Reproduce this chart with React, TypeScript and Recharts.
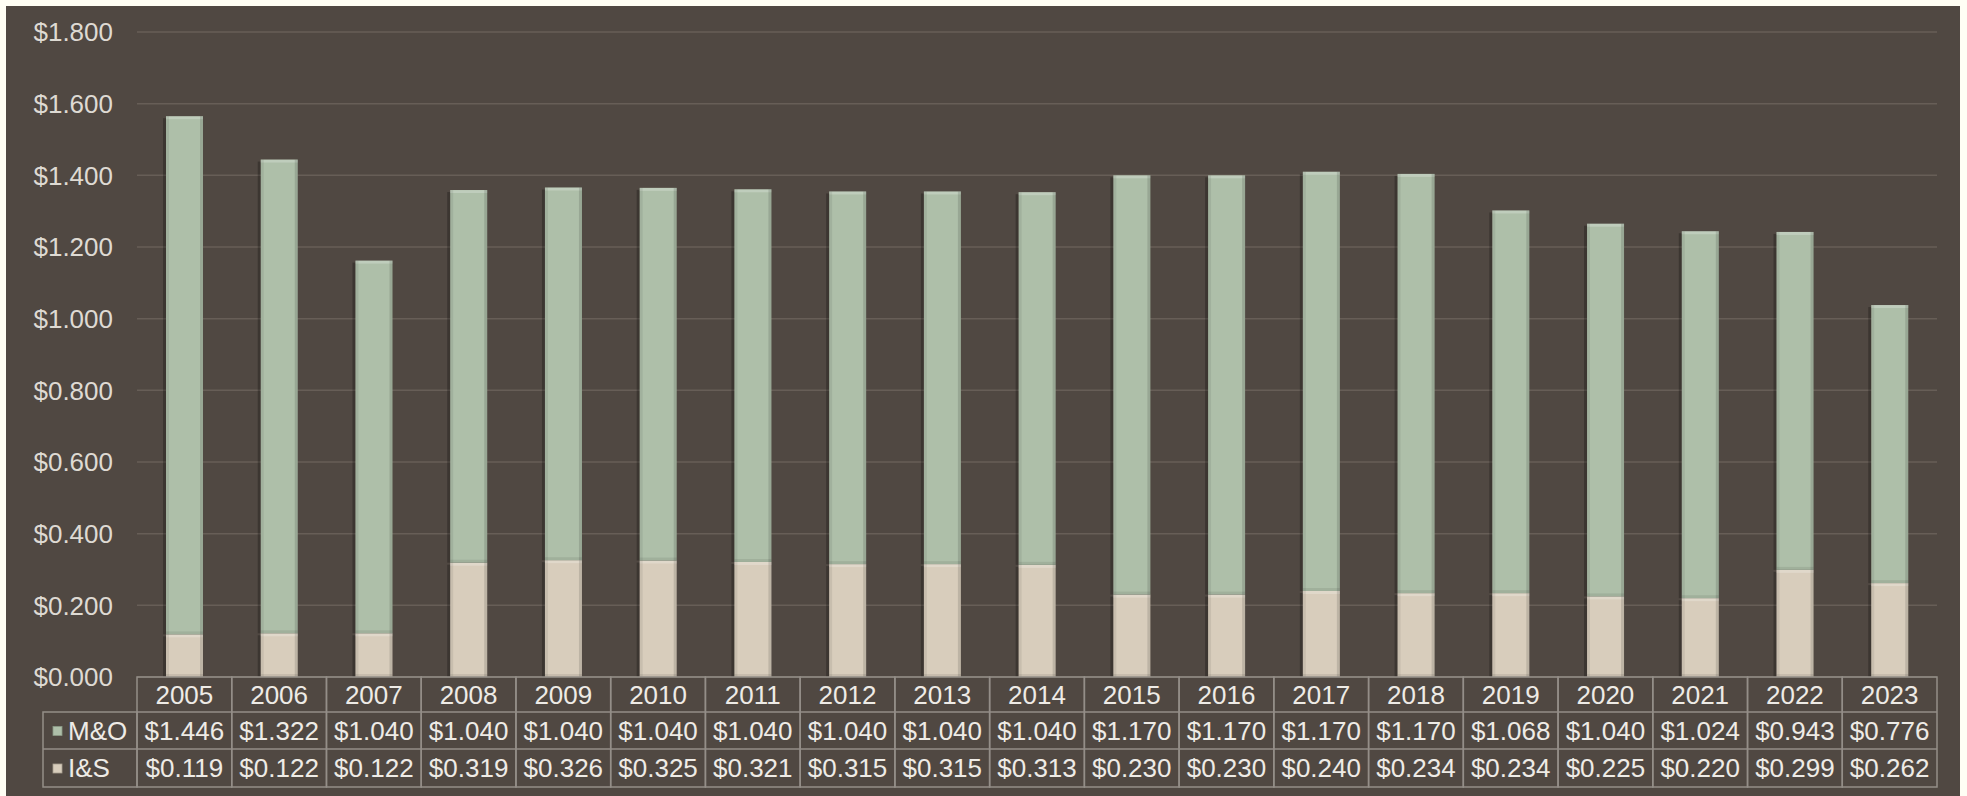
import React from 'react';
import { BarChart, Bar, XAxis, YAxis, CartesianGrid } from 'recharts';

const years = ['2005', '2006', '2007', '2008', '2009', '2010', '2011', '2012', '2013', '2014', '2015', '2016', '2017', '2018', '2019', '2020', '2021', '2022', '2023'];
const moValues = [1.446, 1.322, 1.04, 1.04, 1.04, 1.04, 1.04, 1.04, 1.04, 1.04, 1.17, 1.17, 1.17, 1.17, 1.068, 1.04, 1.024, 0.943, 0.776];
const isValues = [0.119, 0.122, 0.122, 0.319, 0.326, 0.325, 0.321, 0.315, 0.315, 0.313, 0.23, 0.23, 0.24, 0.234, 0.234, 0.225, 0.22, 0.299, 0.262];
const yTicks = [0, 0.2, 0.4, 0.6, 0.8, 1.0, 1.2, 1.4, 1.6, 1.8];
const seriesNames = ['M&O', 'I&S'];

const data = years.map((y, i) => ({ year: y, mo: moValues[i], is: isValues[i] }));

const GREEN = '#AEBFA9';
const BEIGE = '#D8CDBC';
const BG = '#504842';
const BORDER = '#948E88';
const TEXT = '#EEEBE6';
const FONT = '"Liberation Sans", Arial, sans-serif';

const CHART_W = 1954;
const CHART_H = 790;
const MARGIN = { top: 26, right: 23, bottom: 0, left: 0 };
const Y_W = 131;
const X_H = 119;
const PLOT_W = CHART_W - MARGIN.right - Y_W;
const ROW_H = [35, 37, 38];
const FS = 26;

const fmt = (v: number) => `$${v.toFixed(3)}`;

const BevelBar = (props: any) => {
  const { x, y, width, height, fill } = props;
  if (!height || height <= 0) return null;
  const b = 3;
  return (
    <g>
      <rect x={x - 3} y={y + 2} width={3} height={Math.max(0, height - 2)} fill="rgba(0,0,0,0.25)" />
      <rect x={x} y={y} width={width} height={height} fill={fill} />
      <rect x={x} y={y} width={width} height={b} fill="rgba(255,255,255,0.22)" />
      <rect x={x} y={y} width={b} height={height} fill="rgba(0,0,0,0.07)" />
      <rect x={x + width - b} y={y} width={b} height={height} fill="rgba(0,0,0,0.12)" />
      <rect x={x} y={y + height - b} width={width} height={b} fill="rgba(0,0,0,0.08)" />
    </g>
  );
};

const TableTick = (props: any) => {
  const { x, y, index, payload } = props;
  const cw = PLOT_W / years.length;
  const left = x - cw / 2;
  const r0 = y;
  const r1 = r0 + ROW_H[0];
  const r2 = r1 + ROW_H[1];
  const r3 = r2 + ROW_H[2];
  const textProps = { fill: TEXT, fontSize: FS, fontFamily: FONT, textAnchor: 'middle' as const, dominantBaseline: 'central' as const };
  const lw = 94;
  return (
    <g>
      <rect x={left} y={r0} width={cw} height={r3 - r0} fill="none" stroke={BORDER} strokeWidth={1.5} />
      <line x1={left} x2={left + cw} y1={r1} y2={r1} stroke={BORDER} strokeWidth={1.5} />
      <line x1={left} x2={left + cw} y1={r2} y2={r2} stroke={BORDER} strokeWidth={1.5} />
      <text x={x} y={(r0 + r1) / 2} {...textProps}>{payload.value}</text>
      <text x={x} y={(r1 + r2) / 2} {...textProps}>{fmt(moValues[index])}</text>
      <text x={x} y={(r2 + r3) / 2} {...textProps}>{fmt(isValues[index])}</text>
      {index === 0 && (
        <g>
          <rect x={left - lw} y={r1} width={lw} height={r3 - r1} fill="none" stroke={BORDER} strokeWidth={1.5} />
          <line x1={left - lw} x2={left} y1={r2} y2={r2} stroke={BORDER} strokeWidth={1.5} />
          <rect x={left - lw + 10} y={(r1 + r2) / 2 - 4} width={9} height={9} fill={GREEN} stroke="#8A9A86" strokeWidth={0.8} />
          <text x={left - lw + 25} y={(r1 + r2) / 2} fill={TEXT} fontSize={FS} fontFamily={FONT} dominantBaseline="central">{seriesNames[0]}</text>
          <rect x={left - lw + 10} y={(r2 + r3) / 2 - 4} width={9} height={9} fill={BEIGE} stroke="#A89E90" strokeWidth={0.8} />
          <text x={left - lw + 25} y={(r2 + r3) / 2} fill={TEXT} fontSize={FS} fontFamily={FONT} dominantBaseline="central">{seriesNames[1]}</text>
        </g>
      )}
    </g>
  );
};

export default function App() {
  return (
    <div style={{ position: 'fixed', inset: 0, background: '#FFFEF4' }}>
      <div style={{ position: 'absolute', left: 6, top: 6, width: CHART_W, height: CHART_H, background: BG }}>
        <BarChart width={CHART_W} height={CHART_H} data={data} margin={MARGIN} barSize={37}>
          <CartesianGrid vertical={false} stroke="#675E57" strokeWidth={1.5} />
          <YAxis
            width={Y_W}
            domain={[0, 1.8]}
            ticks={yTicks}
            tickFormatter={fmt}
            axisLine={false}
            tickLine={false}
            tickSize={0}
            tickMargin={24}
            tick={{ fill: '#DEDAD3', fontSize: FS, fontFamily: FONT }}
          />
          <XAxis
            dataKey="year"
            height={X_H}
            interval={0}
            axisLine={false}
            tickLine={false}
            tickSize={0}
            tickMargin={0}
            tick={<TableTick />}
          />
          <Bar dataKey="is" name={seriesNames[1]} stackId="a" fill={BEIGE} shape={<BevelBar />} isAnimationActive={false} />
          <Bar dataKey="mo" name={seriesNames[0]} stackId="a" fill={GREEN} shape={<BevelBar />} isAnimationActive={false} />
        </BarChart>
      </div>
    </div>
  );
}
